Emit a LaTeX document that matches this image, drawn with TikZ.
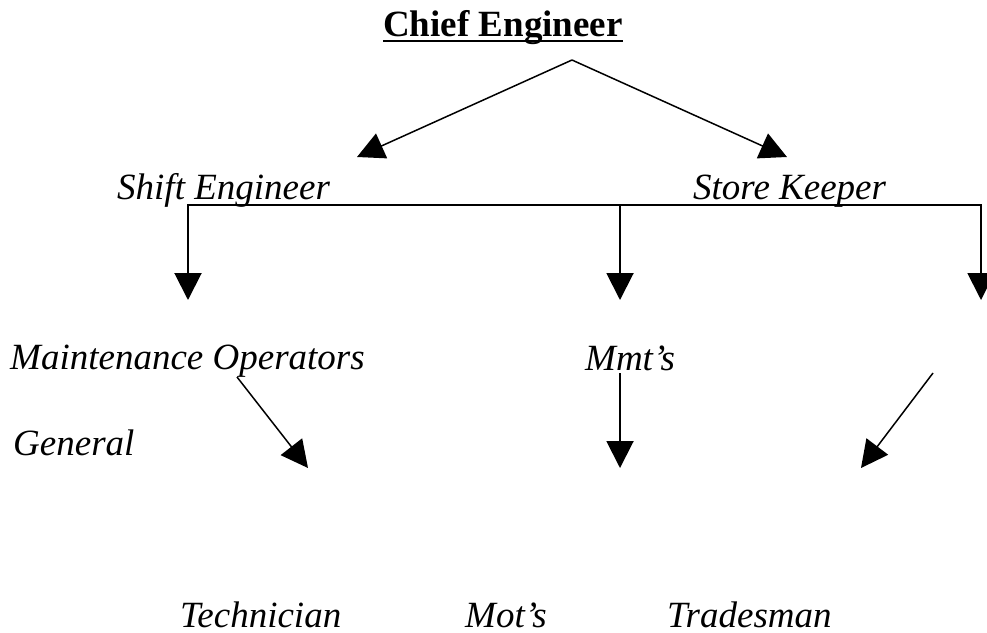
\documentclass[tikz,border=0pt]{standalone}
\usepackage{fontspec}
\setmainfont{Liberation Serif}
\usetikzlibrary{arrows.meta}
\begin{document}
\begin{tikzpicture}[x=1pt,y=-1pt,
  lbl/.style={anchor=base west,inner sep=0pt,font=\fontsize{37}{44}\selectfont\itshape},
  headlbl/.style={anchor=base west,inner sep=0pt,font=\fontsize{37}{44}\selectfont\bfseries},
  bar/.style={line width=2pt,line join=miter},
  slant/.style={line width=1.5pt},
  tipend/.style={-{Triangle[length=27pt,width=27pt]}},
  tipboth/.style={{Triangle[length=27pt,width=27pt]}-{Triangle[length=27pt,width=27pt]}}
]
\useasboundingbox (0,0) rectangle (987,632);

% titles
\node[headlbl] (chief) at (383,36) {Chief Engineer};
\draw[line width=2pt] ([yshift=-5pt]chief.base west) -- ([yshift=-5pt]chief.base east);

\node[lbl] (shift)   at (117,199) {Shift Engineer};
\node[lbl] (store)   at (693,199) {Store Keeper};
\node[lbl] (maint)   at (10,369)  {Maintenance Operators};
\node[lbl] (mmt)     at (585,370) {Mmt’s};
\node[lbl] (general) at (13,455)  {General};
\node[lbl] (tech)    at (180,627) {Technician};
\node[lbl] (mots)    at (465,627) {Mot’s};
\node[lbl] (trades)  at (667,627) {Tradesman};

% connector points
\coordinate (apex)    at (572,60);
\coordinate (toShift) at (357,157);
\coordinate (toStore) at (787,157);
\coordinate (bl) at (188,205);
\coordinate (bm) at (620,205);
\coordinate (br) at (981,205);
\coordinate (dl) at (188,300);
\coordinate (dm) at (620,300);
\coordinate (dr) at (981,300);
\coordinate (s1) at (237,377);
\coordinate (e1) at (308,468);
\coordinate (s2) at (620,373);
\coordinate (e2) at (620,468);
\coordinate (s3) at (933,373);
\coordinate (e3) at (861,468);

% chief engineer branches
\draw[slant,tipend] (apex) -- (toShift);
\draw[slant,tipend] (apex) -- (toStore);

% distribution bar
\draw[bar,tipboth] (dl) -- (bl) -- (br) -- (dr);
\draw[bar,tipend] (bm) -- (dm);

% lower level
\draw[slant,tipend] (s1) -- (e1);
\draw[bar,tipend] (s2) -- (e2);
\draw[slant,tipend] (s3) -- (e3);
\end{tikzpicture}
\end{document}
